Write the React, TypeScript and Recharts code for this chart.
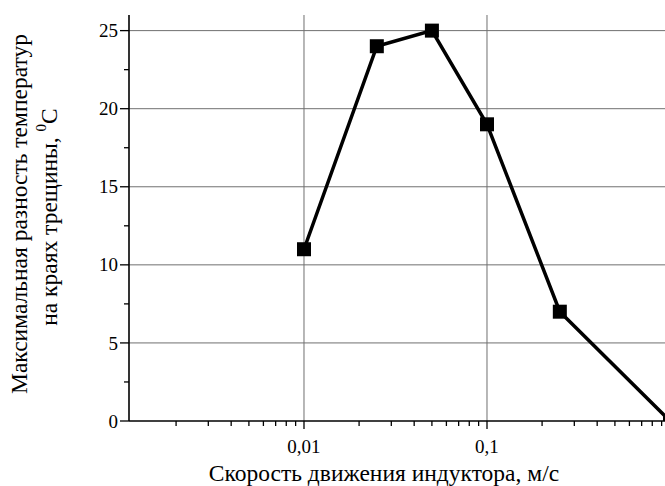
import React from "react";
import {
  LineChart,
  Line,
  XAxis,
  YAxis,
  ReferenceLine,
  Label,
} from "recharts";

// скорость индуктора, м/с
const speeds = [0.01, 0.025, 0.05, 0.1, 0.25, 1];
// максимальная разность температур, °C
const tempDiff = [11, 24, 25, 19, 7, 0];

const xMajorTicks = [0.01, 0.1];
const xMajorLabels = ["0,01", "0,1"];
const xMinorTicks = [
  0.002, 0.003, 0.004, 0.005, 0.006, 0.007, 0.008, 0.009,
  0.02, 0.03, 0.04, 0.05, 0.06, 0.07, 0.08, 0.09,
  0.2, 0.3, 0.4, 0.5, 0.6, 0.7, 0.8, 0.9,
];
const yMajorTicks = [0, 5, 10, 15, 20, 25];
const yMinorTicks = [2.5, 7.5, 12.5, 17.5, 22.5];
const gridY = [5, 10, 15, 20, 25];
const gridX = [0.01, 0.1];

const data = speeds.map((v, i) => ({ v, t: tempDiff[i] }));

const serif = { fontFamily: '"Times New Roman", "Liberation Serif", Times, serif' };

const XTick = (props: any) => {
  const { x, y, payload } = props;
  const idx = xMajorTicks.indexOf(payload.value);
  const major = idx >= 0;
  return (
    <g>
      <line x1={x} x2={x} y1={y} y2={y + (major ? 8 : 5)} stroke="#000" strokeWidth={1.3} />
      {major && (
        <text x={x} y={y + 32} textAnchor="middle" style={serif} fontSize={19} fill="#000">
          {xMajorLabels[idx]}
        </text>
      )}
    </g>
  );
};

const YTick = (props: any) => {
  const { x, y, payload } = props;
  const major = yMajorTicks.includes(payload.value);
  return (
    <g>
      <line x1={x} x2={x - (major ? 9 : 5)} y1={y} y2={y} stroke="#000" strokeWidth={1.3} />
      {major && (
        <text x={x - 11} y={y} dy="0.35em" textAnchor="end" style={serif} fontSize={19} fill="#000">
          {payload.value}
        </text>
      )}
    </g>
  );
};

const Square = (p: any) => {
  if (p.cx == null || p.cy == null) return <g key={p.index} />;
  return <rect key={p.index} x={p.cx - 7} y={p.cy - 7} width={14} height={14} fill="#000" />;
};

const YTitle = () => (
  <g fill="#000">
    <text x={27} y={214} transform="rotate(-90 27 214)" textAnchor="middle" fontSize={23.5} style={serif}>
      Максимальная разность температур
    </text>
    <text x={57} y={217} transform="rotate(-90 57 217)" textAnchor="middle" fontSize={23.5} style={serif}>
      на краях трещины, <tspan fontSize={15} dy={-11}>0</tspan>
      <tspan dy={11}>C</tspan>
    </text>
  </g>
);

const XTitle = () => (
  <text x={384} y={481} textAnchor="middle" style={serif} fontSize={23.5} fill="#000">
    Скорость движения индуктора, м/с
  </text>
);

export default function App() {
  return (
    <div style={{ position: "absolute", left: 0, top: 0, background: "#fff" }}>
      <LineChart
        width={665}
        height={486}
        data={data}
        margin={{ top: 15, right: 0, left: 0, bottom: 0 }}
      >
        {gridY.map((g) => (
          <ReferenceLine key={`gy${g}`} y={g} stroke="#707070" strokeWidth={1} />
        ))}
        {gridX.map((g) => (
          <ReferenceLine key={`gx${g}`} x={g} stroke="#707070" strokeWidth={1} />
        ))}
        <XAxis
          dataKey="v"
          type="number"
          scale="log"
          domain={[0.001106, 0.939]}
          allowDataOverflow
          ticks={[...xMajorTicks, ...xMinorTicks].sort((a, b) => a - b)}
          interval={0}
          tick={<XTick />}
          tickLine={false}
          tickSize={0}
          tickMargin={0}
          axisLine={{ stroke: "#000", strokeWidth: 1.6 }}
          height={65}
        >
          <Label content={<XTitle />} />
        </XAxis>
        <YAxis
          type="number"
          domain={[0, 26]}
          allowDataOverflow
          ticks={[...yMajorTicks, ...yMinorTicks].sort((a, b) => a - b)}
          interval={0}
          tick={<YTick />}
          tickLine={false}
          tickSize={0}
          tickMargin={0}
          axisLine={{ stroke: "#000", strokeWidth: 1.6 }}
          width={129}
        >
          <Label content={<YTitle />} />
        </YAxis>
        <Line
          dataKey="t"
          stroke="#000"
          strokeWidth={3.5}
          dot={Square}
          activeDot={false}
          isAnimationActive={false}
        />
      </LineChart>
    </div>
  );
}
